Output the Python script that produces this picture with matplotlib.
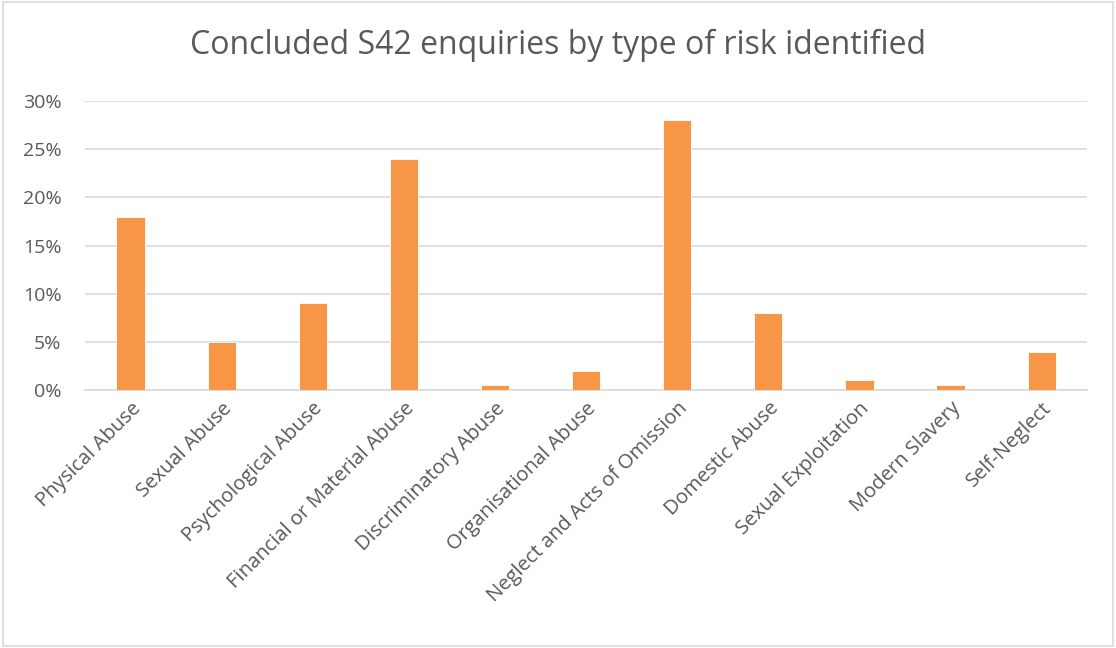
import matplotlib.pyplot as plt
from matplotlib.ticker import PercentFormatter

categories = ['Physical Abuse', 'Sexual Abuse', 'Psychological Abuse',
              'Financial or Material Abuse', 'Discriminatory Abuse',
              'Organisational Abuse', 'Neglect and Acts of Omission',
              'Domestic Abuse', 'Sexual Exploitation', 'Modern Slavery',
              'Self-Neglect']
shares = [18, 5, 9, 24, 0.5, 2, 28, 8, 1, 0.5, 4]

plt.rcParams['font.family'] = ['Open Sans', 'DejaVu Sans']
text_col = '#595959'

fig = plt.figure(figsize=(11.16, 6.48), dpi=100)
ax = fig.add_axes([0.0762, 0.398, 0.898, 0.446])

x = range(len(categories))
ax.bar(x, shares, width=0.31, color='#F79646', edgecolor='white', linewidth=0.6, zorder=3)

ax.set_xlim(-0.5, len(categories) - 0.5)
ax.set_ylim(0, 30)
ax.set_yticks([0, 5, 10, 15, 20, 25, 30])
ax.yaxis.set_major_formatter(PercentFormatter(decimals=0))
ax.grid(axis='y', color='#D9D9D9', linewidth=1.2, zorder=0)

ax.set_xticks(list(x))
ax.set_xticklabels(categories, rotation=45, ha='right', rotation_mode='anchor',
                   fontsize=14.5)
ax.tick_params(axis='both', length=0, colors=text_col)
ax.tick_params(axis='y', labelsize=14, pad=17)
ax.tick_params(axis='x', pad=6)

for s in ['top', 'right', 'left']:
    ax.spines[s].set_visible(False)
ax.spines['bottom'].set_color('#D9D9D9')
ax.spines['bottom'].set_linewidth(1.2)

fig.text(0.5, 0.93, 'Concluded S42 enquiries by type of risk identified',
         ha='center', va='center', fontsize=23, color=text_col)

border = plt.Rectangle((0.003, 0.003), 0.994, 0.994, transform=fig.transFigure,
                       fill=False, edgecolor='#D9D9D9', linewidth=1.2)
fig.patches.append(border)

fig.savefig('out.png', dpi=100)
